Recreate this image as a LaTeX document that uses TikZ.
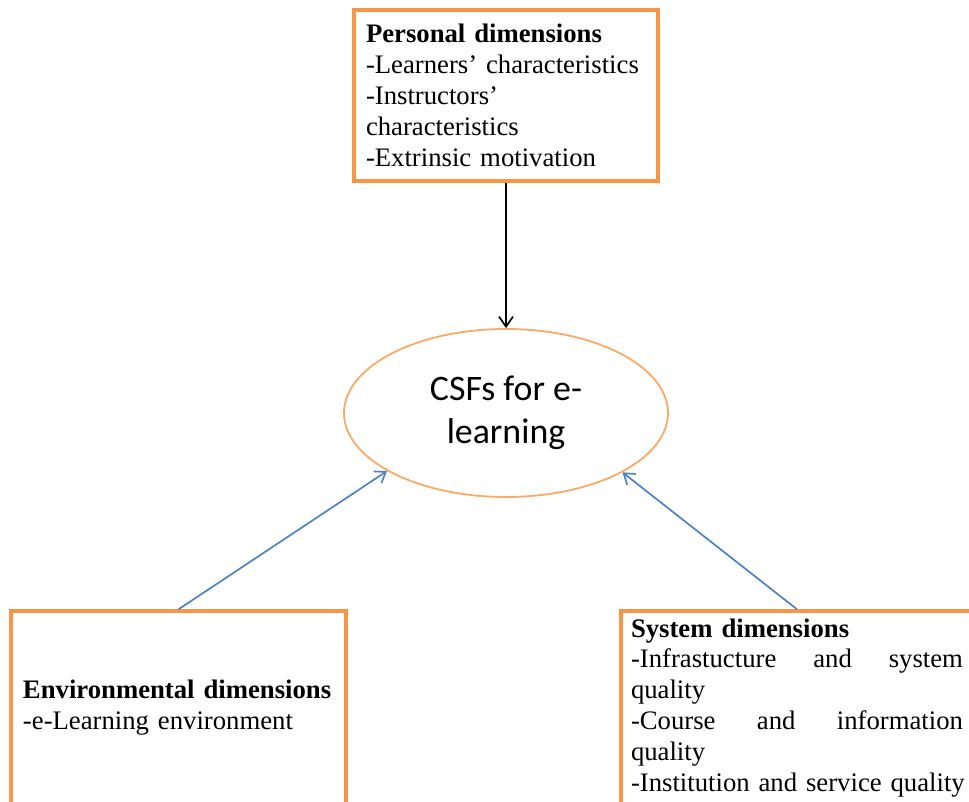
\documentclass[tikz,border=0pt]{standalone}
\usepackage{fontspec}
\setmainfont{Liberation Serif}
\newfontfamily\calibrifont{Carlito}
\usepackage{xcolor}
\usetikzlibrary{arrows.meta,shapes.geometric,positioning}
\definecolor{boxorange}{HTML}{F79646}
\definecolor{linkblue}{HTML}{4F81BD}

\begin{document}
\begin{tikzpicture}[x=0.25mm,y=-0.25mm,
                    dim box/.style={rectangle,draw=boxorange,line width=2.4pt,align=left,inner xsep=3mm,
                                    font=\fontsize{19}{22}\selectfont},
                    csf node/.style={ellipse,draw=boxorange!80,line width=1.3pt,inner sep=0pt,align=center,
                                     minimum width=81mm,minimum height=42mm,font=\calibrifont\fontsize{25.5}{31}\selectfont},
                    link/.style={draw=linkblue,line width=1.2pt,-{Straight Barb[length=2.5mm,width=3.5mm]}}]

  \useasboundingbox (0,0) rectangle (969,802);

  \node[dim box,text width=70mm,minimum height=42.75mm] (pers) at (506,95.5)
       {\textbf{Personal dimensions}\\-Learners' characteristics\\-Instructors'\\characteristics\\-Extrinsic motivation};

  \node[csf node] (csf) at (506,413) {CSFs for e-\\learning};

  \node[dim box,text width=77.75mm,minimum height=48.5mm] (env) at (178.5,708)
       {\textbf{Environmental dimensions}\\-e-Learning environment};
  \node[dim box,text width=83mm,inner xsep=2.5mm,minimum height=48.5mm] (sys) at (797,708)
       {\textbf{System dimensions}\\-Infrastucture\hfill and\hfill system\\quality\\-Course\hfill and\hfill information\\quality\\\mbox{-Institution and service quality}};

  \draw[line width=1.2pt,-{Straight Barb[length=2.5mm,width=3.5mm]}] (pers.south) -- (csf.north);
  \draw[link] (env.north) -- (csf.206.6);
  \draw[link] (sys.north) -- (csf.333.4);

\end{tikzpicture}
\end{document}
